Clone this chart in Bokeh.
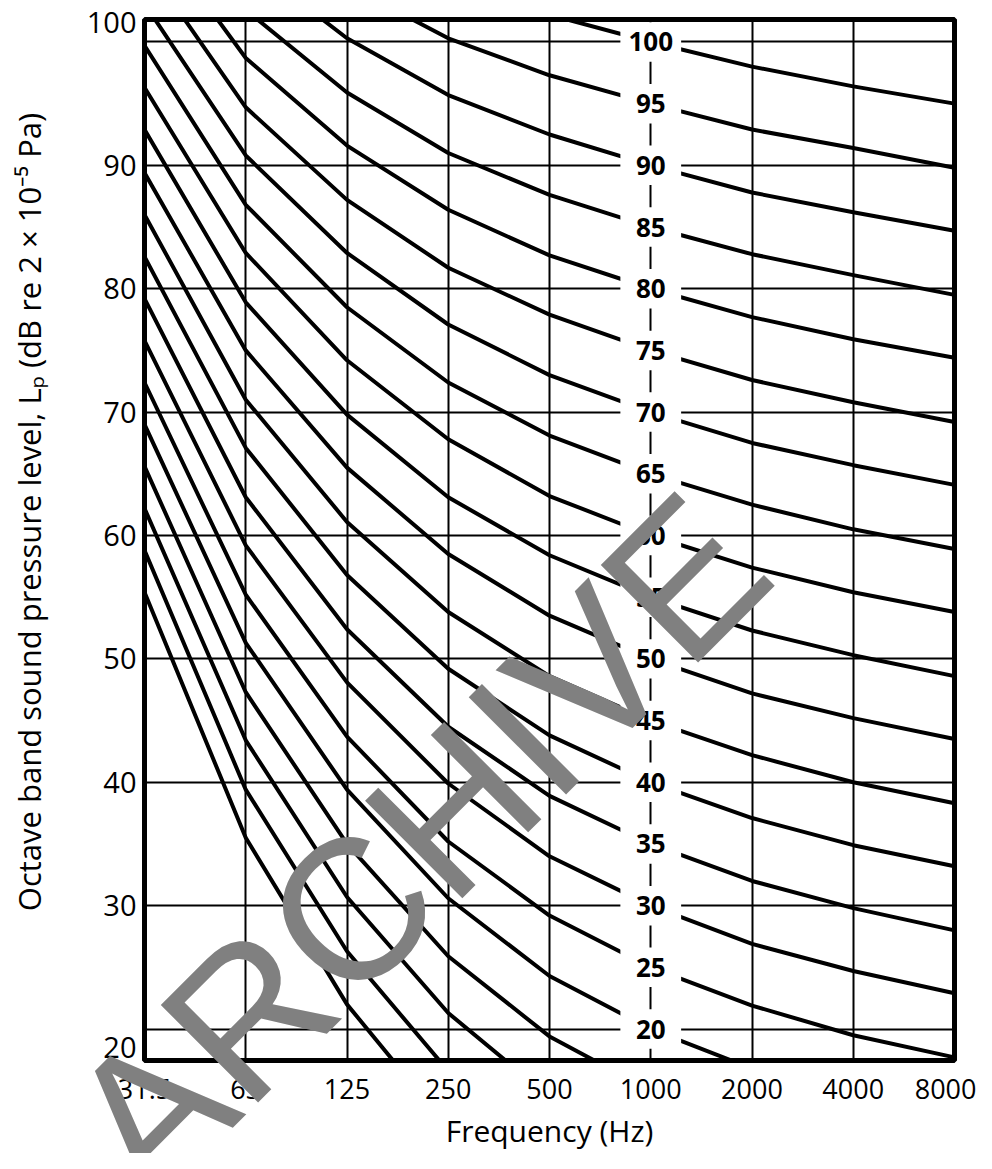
import math
from bokeh.plotting import figure
from bokeh.models import FixedTicker, ColumnDataSource, GridBox, Range1d
from bokeh.core.properties import value
from bokeh.embed import file_html
from bokeh.resources import INLINE

# ---------------- data ----------------
bands = ["31.5", "63", "125", "250", "500", "1000", "2000", "4000", "8000"]
band_pos = [0, 1, 2, 3, 4, 5, 6, 7, 8]

# Octave band levels (dB) of each noise-rating curve, 31.5 Hz ... 8000 Hz
nr0 = [55.4, 35.5, 22.0, 12.0, 4.8, 0.0, -3.5, -6.1, -8.0]
nr5 = [58.8, 39.4, 26.3, 16.6, 9.7, 5.0, 1.6, -1.0, -2.8]
nr10 = [62.2, 43.4, 30.7, 21.3, 14.5, 10.0, 6.6, 4.2, 2.3]
nr15 = [65.6, 47.3, 35.0, 25.9, 19.4, 15.0, 11.7, 9.3, 7.4]
nr20 = [69.0, 51.3, 39.4, 30.6, 24.3, 20.0, 16.8, 14.4, 12.6]
nr25 = [72.4, 55.2, 43.7, 35.2, 29.2, 25.0, 21.9, 19.5, 17.7]
nr30 = [75.8, 59.2, 48.1, 39.9, 34.0, 30.0, 26.9, 24.7, 22.9]
nr35 = [79.2, 63.1, 52.4, 44.5, 38.9, 35.0, 32.0, 29.8, 28.0]
nr40 = [82.6, 67.1, 56.8, 49.2, 43.8, 40.0, 37.1, 34.9, 33.2]
nr45 = [86.0, 71.0, 61.1, 53.8, 48.6, 45.0, 42.2, 40.0, 38.3]
nr50 = [89.4, 75.0, 65.5, 58.5, 53.5, 50.0, 47.2, 45.2, 43.5]
nr55 = [92.9, 78.9, 69.8, 63.1, 58.4, 55.0, 52.3, 50.3, 48.6]
nr60 = [96.3, 82.9, 74.2, 67.8, 63.2, 60.0, 57.4, 55.4, 53.8]
nr65 = [99.7, 86.8, 78.5, 72.4, 68.1, 65.0, 62.5, 60.5, 58.9]
nr70 = [103.1, 90.8, 82.9, 77.1, 73.0, 70.0, 67.5, 65.7, 64.1]
nr75 = [106.5, 94.7, 87.2, 81.7, 77.9, 75.0, 72.6, 70.8, 69.2]
nr80 = [109.9, 98.7, 91.6, 86.4, 82.7, 80.0, 77.7, 75.9, 74.4]
nr85 = [113.3, 102.6, 95.9, 91.0, 87.6, 85.0, 82.8, 81.1, 79.5]
nr90 = [116.7, 106.6, 100.3, 95.7, 92.5, 90.0, 87.8, 86.2, 84.7]
nr95 = [120.1, 110.5, 104.6, 100.3, 97.3, 95.0, 92.9, 91.4, 89.8]
nr100 = [123.5, 114.5, 109.0, 105.0, 102.2, 100.0, 98.0, 96.4, 95.0]

curves = [nr0, nr5, nr10, nr15, nr20, nr25, nr30, nr35, nr40, nr45, nr50,
          nr55, nr60, nr65, nr70, nr75, nr80, nr85, nr90, nr95, nr100]

curve_labels = [20, 25, 30, 35, 40, 45, 50, 55, 60, 65, 70, 75, 80, 85, 90, 95, 100]
grid_levels = [20, 30, 40, 50, 60, 70, 80, 90, 100]
y_tick_levels = [30, 40, 50, 60, 70, 80, 90]

x_title = "Frequency (Hz)"
y_title = "Octave band sound pressure level, Lₚ (dB re 2 × 10⁻⁵ Pa)"
watermark = "ARCHIVE"

# ---------------- layout constants (pixels) ----------------
W, H = 976, 1153
B_LEFT, B_RIGHT, B_TOP, B_BOTTOM = 144, 22, 19, 92
X_LO, X_HI = 0, 8
Y_LO, Y_HI = 17.45, 101.82
px_per_x = (W - B_LEFT - B_RIGHT) / (X_HI - X_LO)
px_per_y = (H - B_TOP - B_BOTTOM) / (Y_HI - Y_LO)

# ---------------- main figure ----------------
p = figure(width=W, height=H, x_range=(X_LO, X_HI), y_range=(Y_LO, Y_HI),
           output_backend="svg", toolbar_location=None,
           min_border_left=B_LEFT, min_border_right=B_RIGHT,
           min_border_top=B_TOP, min_border_bottom=B_BOTTOM)
p.frame_align = False
p.background_fill_color = "white"
p.border_fill_color = "white"
p.outline_line_color = "black"
p.outline_line_width = 5

p.xgrid.ticker = FixedTicker(ticks=band_pos)
p.ygrid.ticker = FixedTicker(ticks=grid_levels)
for g in (p.xgrid, p.ygrid):
    g.grid_line_color = "black"
    g.grid_line_width = 2
    g.grid_line_alpha = 1.0

p.xaxis.ticker = FixedTicker(ticks=band_pos)
p.xaxis.major_label_overrides = {i: b for i, b in zip(band_pos, bands)}
y_lab_lo, y_lab_hi = 18.5, 101.6
p.yaxis.ticker = FixedTicker(ticks=[y_lab_lo] + y_tick_levels + [y_lab_hi])
p.yaxis.major_label_overrides = {y_lab_lo: str(grid_levels[0]), y_lab_hi: str(grid_levels[-1])}
for ax in (p.xaxis, p.yaxis):
    ax.axis_line_color = None
    ax.major_tick_line_color = None
    ax.minor_tick_line_color = None
    ax.major_tick_out = 0
    ax.major_tick_in = 0
    ax.minor_tick_out = 0
    ax.minor_tick_in = 0
    ax.major_label_text_font = "Open Sans"
    ax.major_label_text_color = "black"
p.xaxis.major_label_text_font_size = "27px"
p.yaxis.major_label_text_font_size = "29px"
p.xaxis.major_label_standoff = 18
p.yaxis.major_label_standoff = 8

p.xaxis.axis_label = x_title
p.xaxis.axis_label_text_font = "Open Sans"
p.xaxis.axis_label_text_font_style = "normal"
p.xaxis.axis_label_text_font_size = "30px"
p.xaxis.axis_label_text_color = "black"
p.xaxis.axis_label_standoff = 8

for vals in curves:
    p.line(band_pos, vals, line_width=4, line_color="black", line_join="round")

x_lab = band_pos[bands.index("1000")]
src = ColumnDataSource(dict(x=[x_lab] * len(curve_labels), y=curve_labels,
                            text=[str(v) for v in curve_labels]))
p.rect(x="x", y="y", width=0.6, height=3.2, fill_color="white", line_color=None, source=src)
p.text(x="x", y="y", text="text", text_font=value("Open Sans"), text_font_style="bold",
       text_font_size="26px", text_align="center", text_baseline="middle",
       text_color="black", source=src)

# ---------------- transparent overlay (same data coordinates, whole canvas) ----------------
ov = figure(width=W, height=H,
            x_range=Range1d(X_LO - B_LEFT / px_per_x, X_HI + B_RIGHT / px_per_x),
            y_range=Range1d(Y_LO - B_BOTTOM / px_per_y, Y_HI + B_TOP / px_per_y),
            output_backend="svg", toolbar_location=None,
            x_axis_location=None, y_axis_location=None,
            min_border_left=0, min_border_right=0, min_border_top=0, min_border_bottom=0)
ov.frame_align = False
ov.outline_line_color = None
ov.background_fill_color = None
ov.border_fill_color = None
ov.grid.visible = False

# y-axis title
ov.text(x=[-1.136], y=[61.94], text=[y_title], angle=math.pi / 2,
        text_font=value("Open Sans"), text_font_size="31px", text_align="center",
        text_baseline="middle", text_color="black")
# watermark
ov.text(x=[2.696], y=[35.0], text=[watermark], angle=math.pi / 4,
        text_font=value("Liberation Sans"), text_font_size="200px", text_align="center",
        text_baseline="middle", text_color="#808080")

layout = GridBox(children=[(p, 0, 0), (ov, 0, 0)])

open("out.html", "w").write(file_html(layout, INLINE))
